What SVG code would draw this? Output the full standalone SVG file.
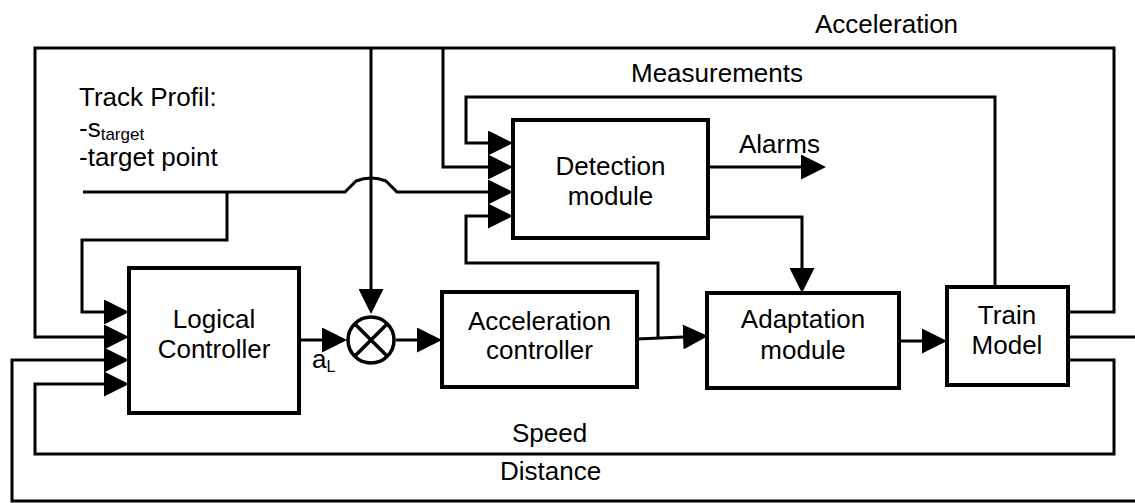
<svg xmlns="http://www.w3.org/2000/svg" width="1135" height="503" viewBox="0 0 1135 503">
  <style>
    .ln { fill: none; stroke: #000; stroke-width: 3; stroke-linejoin: miter; }
    .box { fill: #fff; stroke: #000; stroke-width: 4; }
    .t { font-family: "Liberation Sans", Arial, sans-serif; font-size: 26px; fill: #000; }
    .c { text-anchor: middle; }
  </style>
  <defs>
    <marker id="ah" viewBox="0 0 25 25" refX="0" refY="12.5" markerWidth="25" markerHeight="25" markerUnits="userSpaceOnUse" orient="auto">
      <path d="M0,0 L25,12.5 L0,25 Z" fill="#000"/>
    </marker>
  </defs>

  <rect width="1135" height="503" fill="#fff"/>

  <!-- connectors -->
  <g id="connectors">
    <!-- acceleration feedback over the top -->
    <path class="ln" d="M1068,312 H1114 V48 H35 V337 H104" marker-end="url(#ah)"/>
    <path class="ln" d="M371,48 V289" marker-end="url(#ah)"/>
    <path class="ln" d="M443,48 V167 H488" marker-end="url(#ah)"/>
    <!-- measurements -->
    <path class="ln" d="M995,287 V97 H466 V143 H488" marker-end="url(#ah)"/>
    <!-- track profile with line bridge -->
    <path class="ln" d="M83,192 H345 L356,181 Q371,175 386,181 L397,192 H488" marker-end="url(#ah)"/>
    <path class="ln" d="M227,192 V240 H82 V312 H104" marker-end="url(#ah)"/>
    <!-- distance -->
    <path class="ln" d="M1135,501 H12 V360 H104" marker-end="url(#ah)"/>
    <path class="ln" d="M1068,337 H1135"/>
    <!-- speed -->
    <path class="ln" d="M1068,360 H1114 V454 H35 V384 H104" marker-end="url(#ah)"/>
    <!-- forward chain -->
    <path class="ln" d="M299,340 H322" marker-end="url(#ah)"/>
    <path class="ln" d="M396,340 H417" marker-end="url(#ah)"/>
    <path class="ln" d="M637,339 L683,337" marker-end="url(#ah)"/>
    <path class="ln" d="M658,337 V263 H466 V216 H488" marker-end="url(#ah)"/>
    <path class="ln" d="M708,167 H801" marker-end="url(#ah)"/>
    <path class="ln" d="M708,217 H802 V268" marker-end="url(#ah)"/>
    <path class="ln" d="M899,341 H922" marker-end="url(#ah)"/>
  </g>

  <!-- free labels -->
  <g id="labels">
    <text class="t" x="815" y="33">Acceleration</text>
    <text class="t" x="631" y="82">Measurements</text>
    <text class="t" x="79" y="106">Track Profil:</text>
    <text class="t" x="79" y="137">-s<tspan font-size="17" dy="3">target</tspan></text>
    <text class="t" x="79" y="166">-target point</text>
    <text class="t" x="739" y="153">Alarms</text>
    <text class="t" x="312" y="368">a<tspan font-size="16" dy="4">L</tspan></text>
    <text class="t" x="512" y="442">Speed</text>
    <text class="t" x="500" y="480">Distance</text>
  </g>

  <g id="logical-controller">
    <rect class="box" x="129" y="268" width="170" height="145"/>
    <text class="t c" x="214" y="328">Logical</text>
    <text class="t c" x="214" y="358">Controller</text>
  </g>

  <g id="summing-junction">
    <circle cx="371" cy="340" r="23" fill="#fff" stroke="#000" stroke-width="3.5"/>
    <path d="M354.7,323.7 L387.3,356.3 M387.3,323.7 L354.7,356.3" stroke="#000" stroke-width="3.5"/>
  </g>

  <g id="detection-module">
    <rect class="box" x="513" y="120" width="195" height="118"/>
    <text class="t c" x="610.5" y="175">Detection</text>
    <text class="t c" x="610.5" y="205">module</text>
  </g>

  <g id="acceleration-controller">
    <rect class="box" x="442" y="292" width="195" height="95"/>
    <text class="t c" x="539.5" y="330">Acceleration</text>
    <text class="t c" x="539.5" y="359">controller</text>
  </g>

  <g id="adaptation-module">
    <rect class="box" x="707" y="293" width="192" height="95"/>
    <text class="t c" x="803" y="328">Adaptation</text>
    <text class="t c" x="803" y="359">module</text>
  </g>

  <g id="train-model">
    <rect class="box" x="947" y="287" width="121" height="98"/>
    <text class="t c" x="1007" y="324">Train</text>
    <text class="t c" x="1007" y="354">Model</text>
  </g>
</svg>
